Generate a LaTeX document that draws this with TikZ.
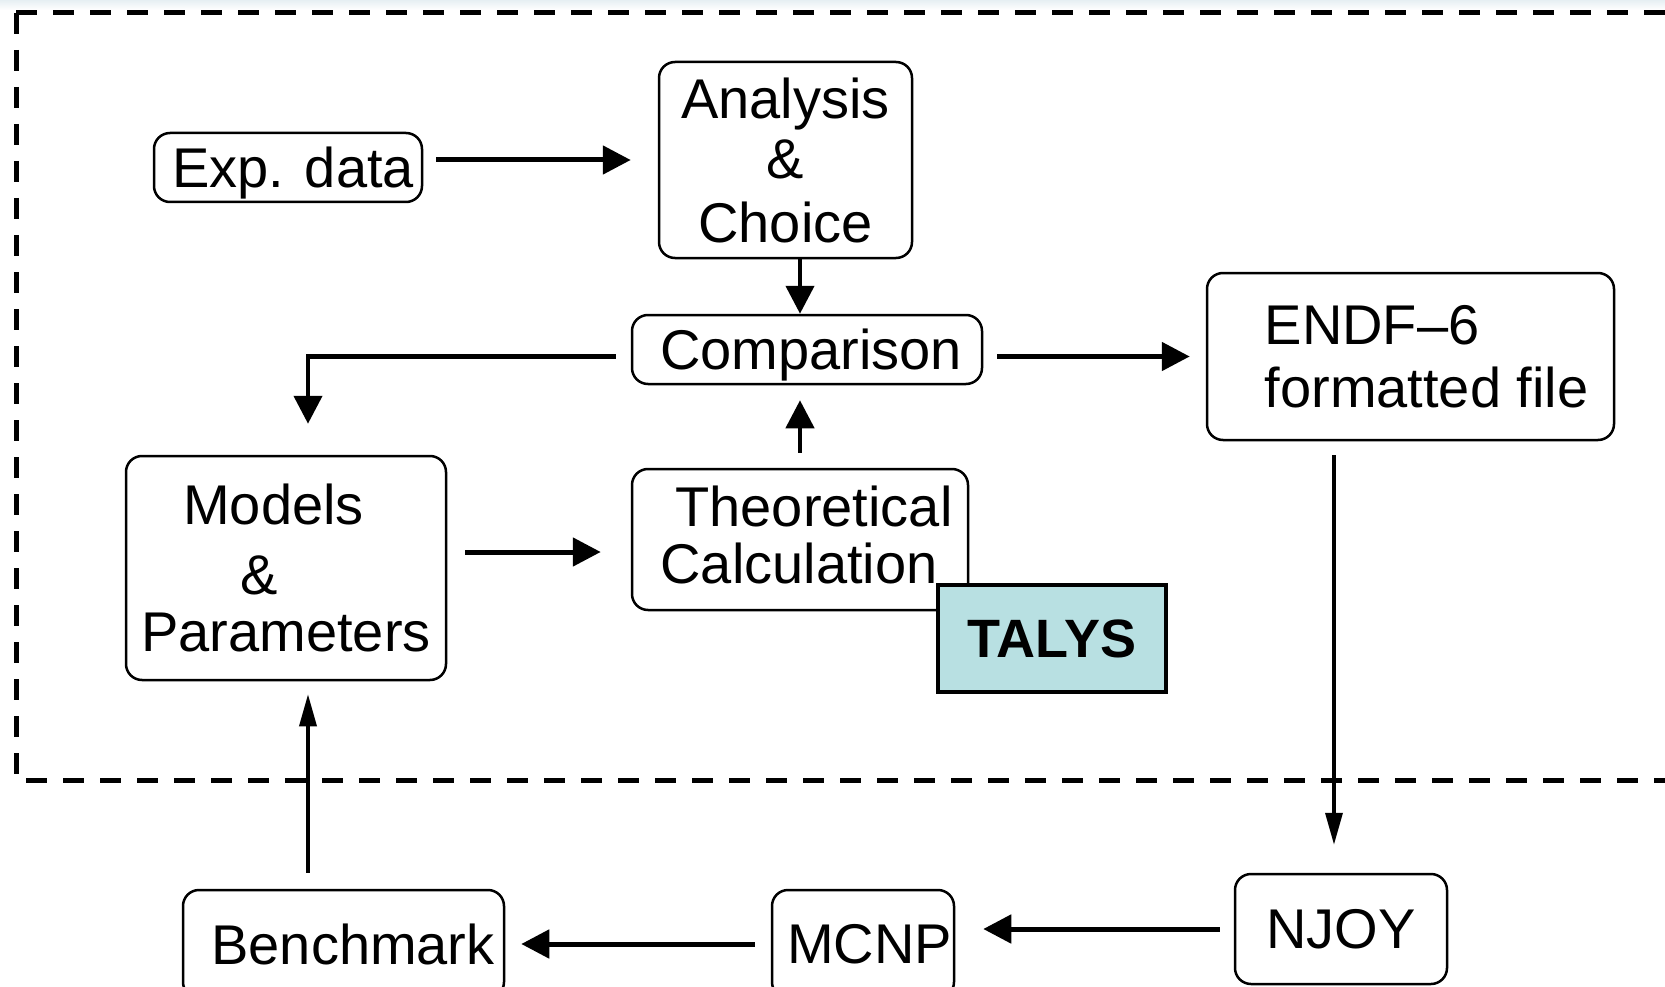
\documentclass[tikz,border=0pt]{standalone}
\usepackage{fontspec}
\setmainfont{Liberation Sans}
\usepackage{xcolor}
\usepackage{tikz}
\usetikzlibrary{
  arrows.meta,
  calc
}
\definecolor{talysfill}{RGB}{184,224,226}
\definecolor{topstrip}{RGB}{230,239,243}
\newcommand{\bigtxt}{\fontsize{56}{60}\selectfont}
\tikzset{
  box/.style={
    draw,
    rounded corners=16pt,
    line width=2.5pt,
    inner sep=0pt,
    font=\bigtxt},
  flow/.style={
    -{Triangle[length=28pt,width=28pt]},
    line width=5pt},
  longflow/.style={
    -{Triangle[length=32pt,width=17pt]},
    line width=3.5pt},
  frame/.style={
    line width=5pt,
    dash pattern=on 21pt off 16pt}
  }

\begin{document}
\begin{tikzpicture}[x=1pt, y=-1pt]
    \useasboundingbox (0,0) rectangle (1665,987);
    \clip (0,0) rectangle (1665,987);
    \shade [top color=topstrip, bottom color=white] (0,0) rectangle (1665,10);
    \draw [frame] (16,13) -- (1690,13);
    \draw [frame] (16,13) -- (16,780) -- (1690,780);
    \node[box, minimum width=268pt, minimum height=69pt, text depth=0pt] (exp) at (288,167.5) {\hspace*{10pt}Exp. data};
    \node[box, minimum width=253pt, minimum height=196pt, align=center] (ana) at (785.5,160) {Analysis\\\&\\[4pt]Choice};
    \node[box, minimum width=350pt, minimum height=69pt, text depth=0pt] (comp) at (807,349.5) {\hspace*{8pt}Comparison};
    \node[box, minimum width=407pt, minimum height=167pt, align=left] (endf) at (1410.5,356.5) {\hspace*{32pt}ENDF\textendash 6\\[3pt]\hspace*{32pt}formatted file};
    \node[box, minimum width=320pt, minimum height=224pt, align=left] (mod) at (286,568) {\hspace*{42pt}Models\\[10pt]\hspace*{99pt}\&\\[-3pt]Parameters};
    \node[box, minimum width=336pt, minimum height=141pt, align=left, text depth=10pt] (theo) at (800,539.5) {\hspace*{28pt}Theoretical\\[-3pt]\hspace*{13pt}Calculation};
    \node[draw, line width=4pt, fill=talysfill, minimum width=228pt, minimum height=107pt, text depth=0pt, font=\fontsize{54}{58}\selectfont\bfseries] (talys) at (1052,638.5) {TALYS};
    \node[box, minimum width=212pt, minimum height=110pt] (njoy) at (1341,929) {NJOY};
    \node[box, minimum width=182pt, minimum height=108pt] (mcnp) at (863,944) {\hspace*{13pt}MCNP};
    \node[box, minimum width=321pt, minimum height=108pt] (bench) at (343.5,944) {\hspace*{19pt}Benchmark};
    \coordinate (loopx) at (308,0);
    \coordinate (dropx) at (1334,0);
    \coordinate (tin) at ([yshift=-12.5pt]theo.west);
    \draw [flow, shorten <=13pt, shorten >=27pt] (exp.east |- ana.west) -- (ana.west);
    \draw [flow, line width=4.5pt] (ana.south -| theo.north) -- (comp.north -| theo.north);
    \draw [flow, line width=4.5pt, shorten <=15pt, shorten >=15pt] (theo.north) -- (comp.south -| theo.north);
    \draw [flow, line width=4.5pt, shorten <=15pt, shorten >=31pt] (comp.west |- endf.west) -- (loopx |- endf.west) -- (loopx |- mod.north);
    \draw [flow, shorten <=14pt, shorten >=16pt] (comp.east |- endf.west) -- (endf.west);
    \draw [flow, shorten <=18pt, shorten >=30pt] (tin -| mod.east) -- (tin);
    \draw [longflow, shorten <=14pt, shorten >=28pt] (dropx |- endf.south) -- (dropx |- njoy.north);
    \draw [flow, shorten <=14pt, shorten >=28pt] (njoy.west) -- (njoy.west -| mcnp.east);
    \draw [flow, shorten <=16pt, shorten >=16pt] (mcnp.west) -- (mcnp.west -| bench.east);
    \draw [longflow, shorten <=16pt, shorten >=13pt] (loopx |- bench.north) -- (loopx |- mod.south);
  \end{tikzpicture}
\end{document}
